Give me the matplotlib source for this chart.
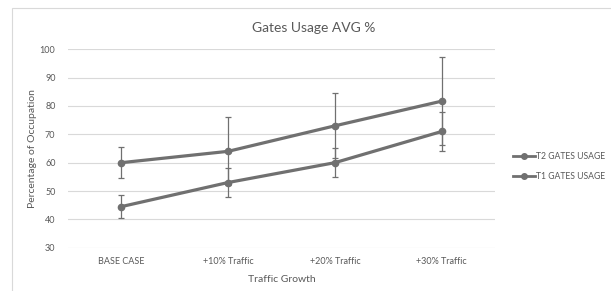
import matplotlib
matplotlib.use("Agg")
import matplotlib.pyplot as plt
from matplotlib.lines import Line2D
from matplotlib.patches import Rectangle

# data
categories = ["BASE CASE", "+10% Traffic", "+20% Traffic", "+30% Traffic"]
t2_usage = [60.0, 64.0, 73.0, 81.7]
t2_err = [5.5, 12.0, 11.5, 15.5]
t1_usage = [44.5, 53.0, 60.0, 71.0]
t1_err = [4.0, 5.0, 5.0, 7.0]

GREY = "#707070"
TEXT = "#595959"
plt.rcParams["font.family"] = ["Lato", "DejaVu Sans"]

fig = plt.figure(figsize=(6.11, 2.91), dpi=100)
fig.patches.append(Rectangle((12 / 611, -0.1), 1.1, 1 - 8 / 291 + 0.1,
                             transform=fig.transFigure, fill=False,
                             edgecolor="#d9d9d9", linewidth=0.8))
ax = fig.add_axes([68 / 611, 1 - 247.7 / 291, (495 - 68) / 611, (247.7 - 49.3) / 291])

x = range(len(categories))
handles = []
for vals, err, name in [(t2_usage, t2_err, "T2 GATES USAGE"), (t1_usage, t1_err, "T1 GATES USAGE")]:
    ax.errorbar(x, vals, yerr=err, color=GREY, ecolor=GREY, elinewidth=0.9,
                capsize=2.5, capthick=0.9, linewidth=2.3, marker="o",
                markersize=4.5, zorder=3)
    handles.append(Line2D([], [], color=GREY, linewidth=2.0, marker="o",
                          markersize=4, label=name))

ax.set_xlim(-0.5, 3.5)
ax.set_ylim(30, 100)
ax.set_yticks(range(30, 101, 10))
ax.set_xticks(list(x))
ax.set_xticklabels(categories)
ax.grid(True, axis="y", color="#d9d9d9", linewidth=0.8)
ax.set_axisbelow(True)
for s in ax.spines.values():
    s.set_visible(False)
ax.tick_params(length=0, labelsize=6.5, colors=TEXT, pad=7)
ax.tick_params(axis="y", pad=9)
ax.set_xlabel("Traffic Growth", fontsize=7.5, color=TEXT, labelpad=6)
ax.set_ylabel("Percentage of Occupation", fontsize=7.5, color=TEXT, labelpad=2)

fig.text(314 / 611, 1 - 27.5 / 291, "Gates Usage AVG %", ha="center", va="center",
         fontsize=10, color=TEXT)

leg = ax.legend(handles=handles, loc="center left", bbox_to_anchor=(1.028, 0.41),
                frameon=False, fontsize=6.2, handlelength=2.6, handletextpad=0.1,
                labelspacing=1.3, borderaxespad=0.3)
for t in leg.get_texts():
    t.set_color(TEXT)

fig.savefig("out.png", dpi=100)
